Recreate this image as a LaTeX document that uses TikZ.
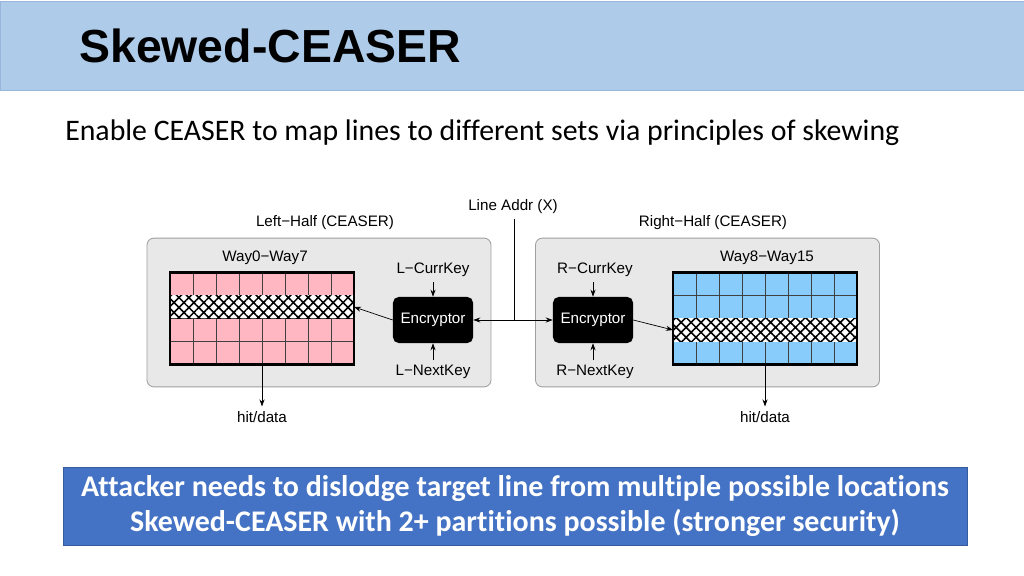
\documentclass[tikz,border=0pt]{standalone}
\usepackage{fontspec}
\setmainfont{Carlito}[Ligatures=NoCommon]
\newfontfamily\helv{Liberation Sans}
\usetikzlibrary{positioning,calc,patterns.meta,arrows.meta}

\definecolor{titleband}{RGB}{174,203,233}
\definecolor{titleedge}{RGB}{150,182,218}
\definecolor{notebox}{RGB}{68,114,196}
\definecolor{waypink}{RGB}{255,184,194}
\definecolor{wayblue}{RGB}{135,204,250}
\definecolor{halfgray}{RGB}{232,232,232}

\begin{document}
\begin{tikzpicture}[x=0.025cm,y=-0.025cm,
  every node/.style={font=\helv\fontsize{10.8}{13}\selectfont},
  halfbox/.style={draw=gray!75,fill=halfgray,rounded corners=5pt,line width=0.6pt,
    minimum width=8.6cm,minimum height=3.72cm},
  way/.style={inner sep=0pt,outer sep=0pt,minimum width=4.6cm,minimum height=2.3cm},
  hatchrow/.style={inner sep=0pt,outer sep=0pt,minimum width=4.6cm,minimum height=0.575cm,
    fill=white,postaction={pattern={Hatch[angle=45,distance=5pt,line width=1.1pt]}}},
  cell/.style={draw=black!75,line width=0.5pt},
  frame/.style={draw=black,line width=1.8pt},
  enc/.style={fill=black,text=white,rounded corners=4pt,minimum width=2cm,minimum height=1.15cm},
  arr/.style={-{Stealth[length=5pt,width=3.6pt]},line width=0.5pt}
]
\useasboundingbox (0,0) rectangle (1024,576);

% title bar
\draw[fill=titleband,draw=titleedge] (0,1) rectangle (1024,90);
\node[anchor=base west,inner sep=0pt,font=\helv\bfseries\fontsize{33}{36}\selectfont] (title) at (79,63) {Skewed-CEASER};
\node[anchor=base west,inner sep=0pt,font=\fontsize{21.2}{25}\selectfont] (intro) at (65,141)
  {Enable CEASER to map lines to different sets via principles of skewing};

% left half
\node[halfbox] (halfL) at (319,312.5) {};
\node (nameL) at (325,223) {Left−Half (CEASER)};
\node[way,fill=waypink] (gridL) at (262,318.5) {};
\node (waysL) at (265,258) {Way0−Way7};
\foreach \k in {1,...,7}
  \draw[cell] ($(gridL.north west)!{\k/8}!(gridL.north east)$) -- ($(gridL.south west)!{\k/8}!(gridL.south east)$);
\foreach \k in {1,2,3}
  \draw[cell] ($(gridL.north west)!{\k/4}!(gridL.south west)$) -- ($(gridL.north east)!{\k/4}!(gridL.south east)$);
\node[hatchrow,anchor=north west] (hatchL) at ($(gridL.north west)!0.25!(gridL.south west)$) {};
\draw[frame] (gridL.north west) rectangle (gridL.south east);
\node[enc] (encL) at (433,320) {Encryptor};
\node (currL) at (433,270) {L−CurrKey};
\node (nextL) at (433,372) {L−NextKey};
\node (hitL) at (262,417) {hit/data};

% right half
\node[halfbox] (halfR) at (707.5,312.5) {};
\node (nameR) at (713,223) {Right−Half (CEASER)};
\node[way,fill=wayblue] (gridR) at (765,318.5) {};
\node (waysR) at (767,258) {Way8−Way15};
\foreach \k in {1,...,7}
  \draw[cell] ($(gridR.north west)!{\k/8}!(gridR.north east)$) -- ($(gridR.south west)!{\k/8}!(gridR.south east)$);
\foreach \k in {1,2,3}
  \draw[cell] ($(gridR.north west)!{\k/4}!(gridR.south west)$) -- ($(gridR.north east)!{\k/4}!(gridR.south east)$);
\node[hatchrow,anchor=north west] (hatchR) at ($(gridR.north west)!0.5!(gridR.south west)$) {};
\draw[frame] (gridR.north west) rectangle (gridR.south east);
\node[enc] (encR) at (593,320) {Encryptor};
\node (currR) at (595,270) {R−CurrKey};
\node (nextR) at (595,372) {R−NextKey};
\node (hitR) at (765,417) {hit/data};

% address and keys
\node (addr) at (513,207) {Line Addr (X)};
\coordinate (split) at (514,320);
\draw[line width=0.5pt] (addr.south -| split) -- (split);
\draw[arr] (split) -- (encL);
\draw[arr] (split) -- (encR);
\draw[arr] (currL) -- (encL);
\draw[arr] (nextL) -- (encL);
\draw[arr] (currR.south -| encR) -- (encR);
\draw[arr] (nextR.north -| encR) -- (encR);
\draw[arr] (encL.west) -- (hatchL.east);
\draw[arr] (encR.east) -- (hatchR.west);
\draw[arr] (gridL.south) -- (hitL);
\draw[arr] (gridR.south) -- (hitR);

% note
\node[fill=notebox,draw=notebox!80!black,line width=0.4pt,text=white,align=center,
  minimum width=22.6cm,minimum height=1.95cm,
  font=\bfseries\fontsize{21.3}{24.5}\selectfont] (note) at (515,506)
  {Attacker needs to dislodge target line from multiple possible locations\\
   Skewed-CEASER with 2+ partitions possible (stronger security)};
\end{tikzpicture}
\end{document}
